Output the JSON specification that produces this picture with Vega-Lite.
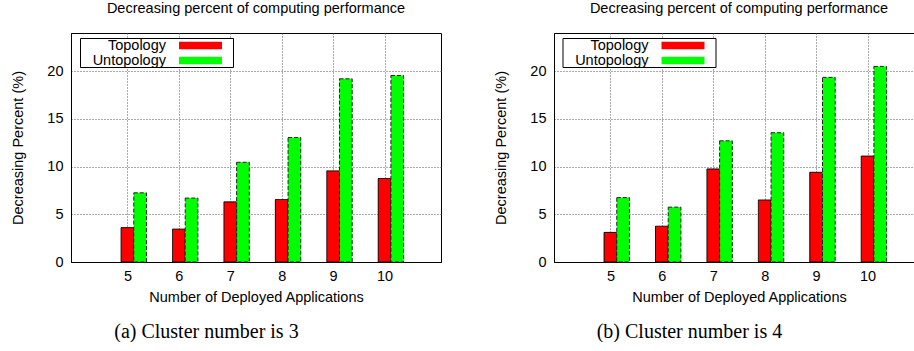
{
  "$schema": "https://vega.github.io/schema/vega-lite/v6.json",
  "padding": {"left": 10, "top": 0, "right": 0, "bottom": 0},
  "background": "white",
  "spacing": 51,
  "resolve": {"scale": {"color": "independent", "strokeDash": "independent"}, "legend": {"color": "independent", "strokeDash": "independent"}},
  "config": {
    "view": {"stroke": "black", "strokeWidth": 1},
    "font": "Liberation Sans",
    "axis": {
      "labelFont": "Liberation Sans",
      "titleFont": "Liberation Sans",
      "labelFontSize": 14.5,
      "titleFontSize": 14.5,
      "titleFontWeight": "normal",
      "labelColor": "black",
      "titleColor": "black",
      "ticks": false,
      "domainColor": "black",
      "gridColor": "#555",
      "gridDash": [1, 2],
      "gridOpacity": 1,
      "gridWidth": 1
    },
    "axisX": {"labelPadding": 7, "titlePadding": 7.5},
    "axisY": {"labelPadding": 8, "titlePadding": 21},
    "legend": {"title": null, "orient": "none", "legendY": 5, "fillColor": "white", "strokeColor": "black", "padding": 0, "rowPadding": 0, "cornerRadius": 0, "labelFont": "Liberation Sans", "labelFontSize": 14.5, "labelColor": "black", "labelAlign": "right", "labelOffset": -42, "symbolOffset": 113, "symbolSize": 196, "symbolType": "M-3.07,-0.55H3.07V0.55H-3.07Z M4.31,0", "symbolStrokeColor": "black", "symbolStrokeWidth": 1},
    "title": {"color": "black", "fontWeight": "normal"}
  },
  "datasets": {
    "c3": [
      {"apps": 5, "series": "Topology", "pct": 3.6},
      {"apps": 6, "series": "Topology", "pct": 3.45},
      {"apps": 7, "series": "Topology", "pct": 6.3},
      {"apps": 8, "series": "Topology", "pct": 6.55},
      {"apps": 9, "series": "Topology", "pct": 9.55},
      {"apps": 10, "series": "Topology", "pct": 8.75},
      {"apps": 5, "series": "Untopology", "pct": 7.25},
      {"apps": 6, "series": "Untopology", "pct": 6.7},
      {"apps": 7, "series": "Untopology", "pct": 10.45},
      {"apps": 8, "series": "Untopology", "pct": 13.05},
      {"apps": 9, "series": "Untopology", "pct": 19.2},
      {"apps": 10, "series": "Untopology", "pct": 19.55}
    ],
    "c4": [
      {"apps": 5, "series": "Topology", "pct": 3.1},
      {"apps": 6, "series": "Topology", "pct": 3.75},
      {"apps": 7, "series": "Topology", "pct": 9.75},
      {"apps": 8, "series": "Topology", "pct": 6.5},
      {"apps": 9, "series": "Topology", "pct": 9.4},
      {"apps": 10, "series": "Topology", "pct": 11.1},
      {"apps": 5, "series": "Untopology", "pct": 6.75},
      {"apps": 6, "series": "Untopology", "pct": 5.75},
      {"apps": 7, "series": "Untopology", "pct": 12.7},
      {"apps": 8, "series": "Untopology", "pct": 13.55},
      {"apps": 9, "series": "Untopology", "pct": 19.35},
      {"apps": 10, "series": "Untopology", "pct": 20.5}
    ]
  },
  "hconcat": [
    {
      "title": {"text": "(a) Cluster number is 3", "orient": "bottom", "font": "Liberation Serif", "fontSize": 20, "fontWeight": "normal", "offset": 18, "dx": -19.5, "anchor": "middle", "color": "black"},
      "vconcat": [
        {
          "width": 370,
          "height": 229,
          "title": {"text": "Decreasing percent of computing performance", "font": "Liberation Sans", "fontSize": 14.5, "fontWeight": "normal", "offset": 17, "anchor": "middle"},
          "data": {"name": "c3"},
          "encoding": {
            "x": {"field": "apps", "type": "quantitative", "scale": {"domain": [4, 11], "nice": false, "zero": false}, "axis": {"values": [5, 6, 7, 8, 9, 10], "title": "Number of Deployed Applications"}},
            "y": {"field": "pct", "type": "quantitative", "scale": {"domain": [0, 24], "nice": false}, "axis": {"values": [0, 5, 10, 15, 20], "title": "Decreasing Percent (%)"}},
            "color": {"field": "series", "type": "nominal", "scale": {"domain": ["Topology", "Untopology"], "range": ["#ff0000", "#00ff00"]}, "legend": {"legendX": 9}},
            "strokeDash": {"field": "series", "type": "nominal", "scale": {"domain": ["Topology", "Untopology"], "range": [[1, 0], [4, 2]]}, "legend": {"legendX": 9}}
          },
          "layer": [
            {"transform": [{"filter": "datum.series === 'Topology'"}], "mark": {"type": "bar", "size": 12.7, "stroke": "black", "strokeWidth": 1}},
            {"transform": [{"filter": "datum.series === 'Untopology'"}], "mark": {"type": "bar", "size": 12.7, "xOffset": 12.7, "stroke": "#222", "strokeWidth": 1}}
          ]
        }
      ]
    },
    {
      "title": {"text": "(b) Cluster number is 4", "orient": "bottom", "font": "Liberation Serif", "fontSize": 20, "fontWeight": "normal", "offset": 18, "dx": -19.5, "anchor": "middle", "color": "black"},
      "vconcat": [
        {
          "width": 370,
          "height": 229,
          "title": {"text": "Decreasing percent of computing performance", "font": "Liberation Sans", "fontSize": 14.5, "fontWeight": "normal", "offset": 17, "anchor": "middle"},
          "data": {"name": "c4"},
          "encoding": {
            "x": {"field": "apps", "type": "quantitative", "scale": {"domain": [4, 11], "nice": false, "zero": false}, "axis": {"values": [5, 6, 7, 8, 9, 10], "title": "Number of Deployed Applications"}},
            "y": {"field": "pct", "type": "quantitative", "scale": {"domain": [0, 24], "nice": false}, "axis": {"values": [0, 5, 10, 15, 20], "title": "Decreasing Percent (%)"}},
            "color": {"field": "series", "type": "nominal", "scale": {"domain": ["Topology", "Untopology"], "range": ["#ff0000", "#00ff00"]}, "legend": {"legendX": 8.5}},
            "strokeDash": {"field": "series", "type": "nominal", "scale": {"domain": ["Topology", "Untopology"], "range": [[1, 0], [4, 2]]}, "legend": {"legendX": 8.5}}
          },
          "layer": [
            {"transform": [{"filter": "datum.series === 'Topology'"}], "mark": {"type": "bar", "size": 12.7, "stroke": "black", "strokeWidth": 1}},
            {"transform": [{"filter": "datum.series === 'Untopology'"}], "mark": {"type": "bar", "size": 12.7, "xOffset": 12.7, "stroke": "#222", "strokeWidth": 1}}
          ]
        }
      ]
    }
  ]
}
